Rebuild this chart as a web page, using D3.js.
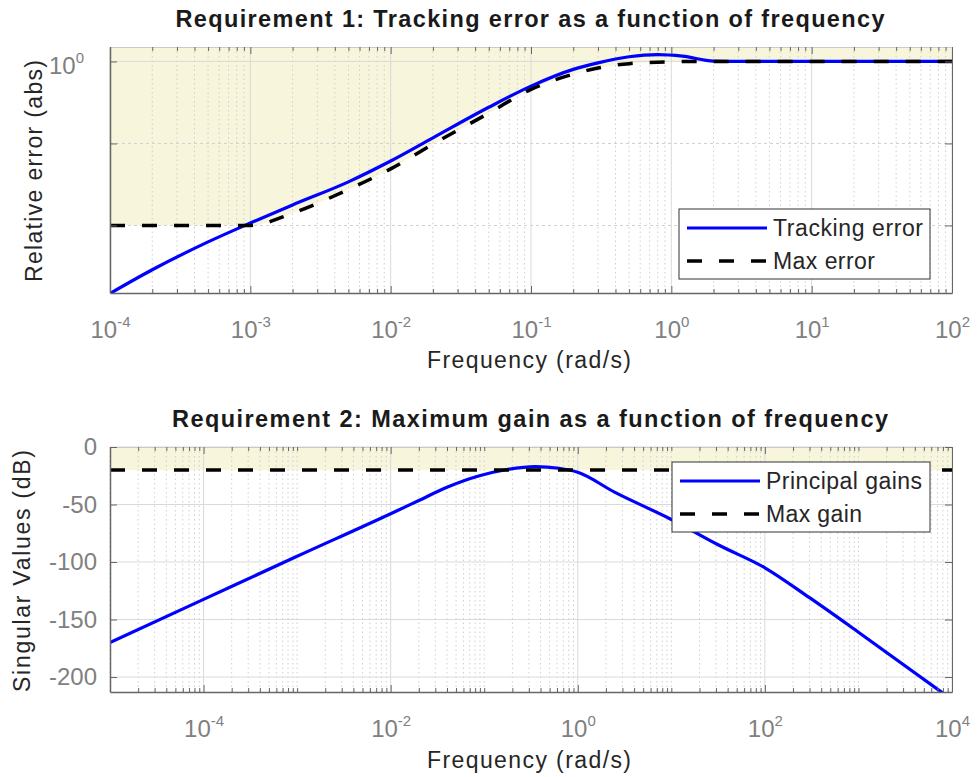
<!DOCTYPE html>
<html lang="en">
<head>
  <meta charset="UTF-8">
  <script src="https://d3js.org/d3.v7.min.js"></script>
  <title>Requirements</title>
  <style>
    body { margin: 0; background: #fff; }
    svg { display: block; font-family: 'Liberation Sans', Arial, Helvetica, sans-serif; }
  </style>
</head>
<body>
  <div id="wrapper"></div>
  <script>
    // Requirement 1: tracking error (abs) vs frequency (rad/s)
    const trackFreq = [1e-4, 2e-4, 5e-4, 1e-3, 2e-3, 5e-3, 1e-2, 2e-2, 5e-2, 0.1, 0.2, 0.3, 0.5, 0.8, 1.2, 2, 3, 100]
    const trackErr  = [0.00148, 0.00288, 0.0063, 0.0107, 0.0178, 0.034, 0.061, 0.117, 0.276, 0.50, 0.80, 0.96, 1.14, 1.21, 1.16, 1.01, 1.0, 1.0]
    const maxErrFreq = [1e-4, 1e-3, 2e-3, 5e-3, 1e-2, 2e-2, 5e-2, 0.1, 0.2, 0.3, 0.5, 1, 1.5, 100]
    const maxErr     = [0.01, 0.01, 0.0141, 0.0275, 0.049, 0.098, 0.234, 0.457, 0.70, 0.83, 0.94, 0.99, 1.0, 1.0]

    // Requirement 2: principal gains (dB) vs frequency (rad/s)
    const gainFreq = [1e-5, 1e-4, 1e-3, 1e-2, 2e-2, 4e-2, 8.9e-2, 0.17, 0.35, 0.63, 1, 2.5, 10, 31.6, 100, 300, 1000, 8000]
    const gainDb   = [-170, -132.5, -95, -58, -46.5, -35, -25, -19.8, -17, -18.5, -22, -39.5, -63, -85, -105, -131, -161, -214]
    const maxGainFreq = [1e-5, 1e4]
    const maxGainDb   = [-20, -20]

    // tick labels
    const xTicks1 = [1e-4, 1e-3, 1e-2, 1e-1, 1e0, 1e1, 1e2]
    const xTickExp1 = ["-4", "-3", "-2", "-1", "0", "1", "2"]
    const yTicks1 = [0.01, 0.1, 1]
    const yTickExp1 = ["", "", "0"]
    const xTicks2 = [1e-4, 1e-2, 1e0, 1e2, 1e4]
    const xTickExp2 = ["-4", "-2", "0", "2", "4"]
    const yTicks2 = [0, -50, -100, -150, -200]

    const width = 978, height = 777
    const shade = "#f7f5dc"
    const tickColor = "#808080"
    const axisColor = "#666"

    const svg = d3.select("#wrapper").append("svg")
      .attr("width", width).attr("height", height)

    function minorTicks(scale, labelled) {
      const [a, b] = scale.domain().map(Math.log10)
      const out = []
      for (let d = Math.floor(a); d <= Math.ceil(b); d++) {
        for (let k = 1; k <= 9; k++) {
          const v = k * Math.pow(10, d)
          if (v < scale.domain()[0] * 0.999 || v > scale.domain()[1] * 1.001) continue
          if (labelled.some(t => Math.abs(t - v) / v < 1e-6)) continue
          out.push(v)
        }
      }
      return out
    }

    function supLabel(sel, exp) {
      sel.text(null)
      sel.append("tspan").text("10")
      sel.append("tspan").attr("dy", -11).attr("font-size", 15).text(exp)
    }

    function clean(ax) {
      ax.attr("font-family", null).attr("font-size", null)
      return ax
    }

    function drawPanel(o) {
      const g = svg.append("g")
      const [L, R] = o.x.range()
      const [B, T] = o.y.range()
      const clipId = "clip" + o.id
      svg.append("clipPath").attr("id", clipId)
        .append("rect").attr("x", L).attr("y", T).attr("width", R - L).attr("height", B - T)

      // shaded forbidden region (above the bound)
      const bound = o.boundX.map((f, i) => [f, o.boundY[i]])
      g.append("path")
        .attr("clip-path", `url(#${clipId})`)
        .attr("fill", shade)
        .attr("d", d3.area().curve(d3.curveMonotoneX)
          .x(d => o.x(d[0])).y0(T).y1(d => o.y(d[1]))(bound))

      // grid
      const xMinor = minorTicks(o.x, o.xMajor)
      g.append("g").selectAll("line").data(xMinor).join("line")
        .attr("x1", d => o.x(d)).attr("x2", d => o.x(d)).attr("y1", T).attr("y2", B)
        .attr("stroke", "#cfcfcf").attr("stroke-dasharray", "1.5,3")
      g.append("g").selectAll("line").data(o.xMajor).join("line")
        .attr("x1", d => o.x(d)).attr("x2", d => o.x(d)).attr("y1", T).attr("y2", B)
        .attr("stroke", "#dadada")
      g.append("g").selectAll("line").data(o.yMajor).join("line")
        .attr("x1", L).attr("x2", R).attr("y1", d => o.y(d)).attr("y2", d => o.y(d))
        .attr("stroke", d => o.yDashed && o.yDashed(d) ? "#d0d0d0" : "#dadada")
        .attr("stroke-dasharray", d => o.yDashed && o.yDashed(d) ? "3,3" : null)

      // curves
      const line = d3.line().curve(d3.curveMonotoneX).x(d => o.x(d[0])).y(d => o.y(d[1]))
      g.append("path")
        .attr("clip-path", `url(#${clipId})`)
        .attr("fill", "none").attr("stroke", "#0000ff").attr("stroke-width", 3.2)
        .attr("d", line(o.curveX.map((f, i) => [f, o.curveY[i]])))
      g.append("path")
        .attr("clip-path", `url(#${clipId})`)
        .attr("fill", "none").attr("stroke", "#000").attr("stroke-width", 3.5)
        .attr("stroke-dasharray", "15,17")
        .attr("d", line(bound))

      // axes: inward ticks
      const axB = clean(g.append("g").attr("transform", `translate(0,${B})`)
        .call(d3.axisBottom(o.x).tickValues(o.xMajor).tickSize(-7).tickPadding(20).tickSizeOuter(0)))
      axB.select(".domain").attr("stroke", axisColor).attr("stroke-width", 1.5)
      axB.selectAll(".tick line").attr("stroke", axisColor)
      axB.selectAll(".tick text")
        .attr("fill", tickColor).attr("font-size", 24)
        .attr("y", o.xLabelDy).attr("dy", null)
        .each(function (d, i) { supLabel(d3.select(this), o.xExp[i]) })
      const axBm = g.append("g").attr("transform", `translate(0,${B})`)
        .call(d3.axisBottom(o.x).tickValues(xMinor).tickSize(-4).tickFormat("").tickSizeOuter(0))
      axBm.select(".domain").remove()
      axBm.selectAll(".tick line").attr("stroke", axisColor)
      const axT = g.append("g").attr("transform", `translate(0,${T})`)
        .call(d3.axisTop(o.x).tickValues(o.xMajor).tickSize(-7).tickFormat("").tickSizeOuter(0))
      axT.select(".domain").attr("stroke", "#c9c9c9")
      axT.selectAll(".tick line").attr("stroke", axisColor)
      const axTm = g.append("g").attr("transform", `translate(0,${T})`)
        .call(d3.axisTop(o.x).tickValues(xMinor).tickSize(-4).tickFormat("").tickSizeOuter(0))
      axTm.select(".domain").remove()
      axTm.selectAll(".tick line").attr("stroke", axisColor)

      const axL = clean(g.append("g").attr("transform", `translate(${L},0)`)
        .call(d3.axisLeft(o.y).tickValues(o.yMajor).tickSize(-7).tickPadding(13).tickSizeOuter(0)))
      axL.select(".domain").attr("stroke", axisColor).attr("stroke-width", 1.5)
      axL.selectAll(".tick line").attr("stroke", axisColor)
      axL.selectAll(".tick text")
        .attr("fill", tickColor).attr("font-size", 24)
        .each(function (d, i) { o.yLabel(d3.select(this), d, i) })
      const axR = g.append("g").attr("transform", `translate(${R},0)`)
        .call(d3.axisRight(o.y).tickValues(o.yMajor).tickSize(-7).tickFormat("").tickSizeOuter(0))
      axR.select(".domain").attr("stroke", axisColor).attr("stroke-width", 1)
      axR.selectAll(".tick line").attr("stroke", axisColor)

      // texts
      svg.append("text").attr("x", 530).attr("y", o.titleY)
        .attr("text-anchor", "middle").attr("font-weight", "bold").attr("font-size", 23.5)
        .attr("fill", "#1a1a1a").attr("textLength", o.titleLen).attr("lengthAdjust", "spacing")
        .text(o.title)
      svg.append("text").attr("x", 529).attr("y", o.xTitleY)
        .attr("text-anchor", "middle").attr("font-size", 23).attr("fill", "#262626")
        .attr("textLength", 204).attr("lengthAdjust", "spacing")
        .text("Frequency (rad/s)")
      svg.append("text")
        .attr("transform", `translate(${o.yTitleX},${o.yTitleMid}) rotate(-90)`)
        .attr("text-anchor", "middle").attr("font-size", 23).attr("fill", "#262626")
        .attr("textLength", o.yTitleLen).attr("lengthAdjust", "spacing")
        .text(o.yTitle)

      // legend
      const lg = svg.append("g")
      lg.append("rect").attr("x", o.legend.x).attr("y", o.legend.y)
        .attr("width", o.legend.w).attr("height", 70)
        .attr("fill", "#fff").attr("stroke", "#333").attr("stroke-width", 1)
      const lx = o.legend.x + 8
      const rows = [
        { name: o.legend.names[0], color: "#0000ff", dash: null, w: 3.2 },
        { name: o.legend.names[1], color: "#000", dash: "15,17", w: 3.5 }
      ]
      rows.forEach((r, i) => {
        const yy = o.legend.y + 19 + i * 33
        lg.append("line").attr("x1", lx).attr("x2", lx + 80).attr("y1", yy).attr("y2", yy)
          .attr("stroke", r.color).attr("stroke-width", r.w).attr("stroke-dasharray", r.dash)
        lg.append("text").attr("x", lx + 86).attr("y", yy + 8)
          .attr("font-size", 23).attr("fill", "#262626")
          .attr("textLength", o.legend.textLen[i]).attr("lengthAdjust", "spacing")
          .text(r.name)
      })
    }

    const x1 = d3.scaleLog().domain([1e-4, 1e2]).range([110, 952])
    const y1 = d3.scaleLog().domain([0.0015, 1.5]).range([293, 47])
    const x2 = d3.scaleLog().domain([1e-5, 1e4]).range([110, 952])
    const y2 = d3.scaleLinear().domain([-213, 0]).range([692, 447])

    drawPanel({
      id: 1, x: x1, y: y1,
      xMajor: xTicks1, xExp: xTickExp1, xLabelDy: 45,
      yMajor: yTicks1,
      yDashed: d => d < 1,
      yLabel: (sel, d, i) => {
        if (yTickExp1[i] === "") { sel.remove(); return }
        supLabel(sel, yTickExp1[i])
        sel.attr("dy", null).attr("y", 12).attr("x", -26).attr("text-anchor", "end")
      },
      curveX: trackFreq, curveY: trackErr,
      boundX: maxErrFreq, boundY: maxErr,
      title: "Requirement 1: Tracking error as a function of frequency",
      titleY: 27, titleLen: 709,
      xTitleY: 368,
      yTitle: "Relative error (abs)", yTitleX: 42, yTitleMid: 171, yTitleLen: 222,
      legend: { x: 679, y: 209, w: 251, names: ["Tracking error", "Max error"], textLen: [150, 102] }
    })

    drawPanel({
      id: 2, x: x2, y: y2,
      xMajor: xTicks2, xExp: xTickExp2, xLabelDy: 45,
      yMajor: yTicks2,
      yLabel: (sel, d) => { sel.text(d) },
      curveX: gainFreq, curveY: gainDb,
      boundX: maxGainFreq, boundY: maxGainDb,
      title: "Requirement 2: Maximum gain as a function of frequency",
      titleY: 427, titleLen: 716,
      xTitleY: 768,
      yTitle: "Singular Values (dB)", yTitleX: 30, yTitleMid: 571, yTitleLen: 242,
      legend: { x: 672, y: 462, w: 258, names: ["Principal gains", "Max gain"], textLen: [156, 96] }
    })
  </script>
</body>
</html>
